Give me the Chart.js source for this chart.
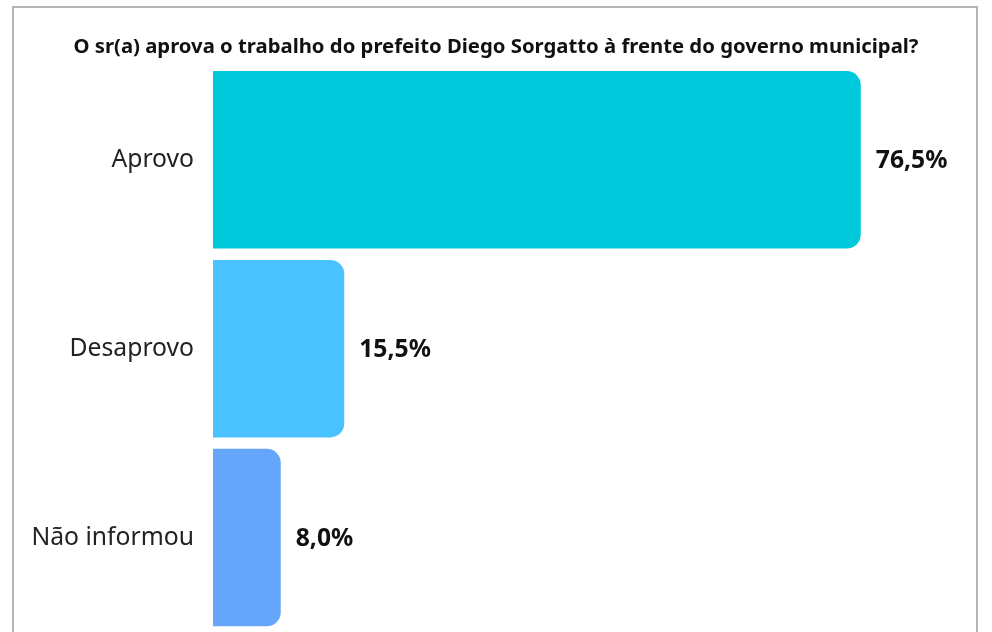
<!DOCTYPE html>
<html>
<head>
<meta charset="utf-8">
<script src="https://cdn.jsdelivr.net/npm/chart.js@4"></script>
<style>
    html, body { margin: 0; padding: 0; background: #fff; }
    #wrap { position: relative; width: 992px; height: 632px; overflow: hidden; }
    #frame {
        position: absolute; left: 12px; top: 6px; width: 966px; height: 700px;
        border: 2px solid #b4b4b4; box-sizing: border-box;
    }
    #chart { position: absolute; left: 0; top: 0; }
</style>
</head>
<body>
<div id="wrap">
    <div id="frame"></div>
    <canvas id="chart" width="992" height="632"></canvas>
</div>
<script>
    // --- Data ---
    const titleText = 'O sr(a) aprova o trabalho do prefeito Diego Sorgatto à frente do governo municipal?';
    const categories = ['Aprovo', 'Desaprovo', 'Não informou'];
    const percentValues = [76.5, 15.5, 8.0];
    const barColors = ['#00c9dc', '#4ac2ff', '#65a6fa'];

    // value labels drawn next to each bar end
    const valueLabels = {
        id: 'valueLabels',
        afterDatasetsDraw(chart) {
            const ctx = chart.ctx;
            const meta = chart.getDatasetMeta(0);
            ctx.save();
            ctx.font = 'bold 24.7px "Noto Sans"';
            ctx.fillStyle = '#111';
            ctx.textAlign = 'left';
            ctx.textBaseline = 'middle';
            meta.data.forEach((bar, i) => {
                const txt = percentValues[i].toFixed(1).replace('.', ',') + '%';
                ctx.fillText(txt, bar.x + 15, bar.y + 1.5);
            });
            ctx.restore();
        }
    };

    const ctx = document.getElementById('chart').getContext('2d');
    new Chart(ctx, {
        type: 'bar',
        data: {
            labels: categories,
            datasets: [{
                data: percentValues,
                backgroundColor: barColors,
                borderRadius: 14,
                barPercentage: 0.94,
                categoryPercentage: 1
            }]
        },
        options: {
            indexAxis: 'y',
            responsive: false,
            animation: false,
            layout: { padding: 0 },
            scales: {
                x: {
                    display: false,
                    min: 0,
                    max: 92
                },
                y: {
                    grid: { display: false, drawTicks: false },
                    border: { display: false },
                    ticks: {
                        color: '#222',
                        padding: 19,
                        font: { family: 'Noto Sans', size: 24.7 }
                    },
                    afterFit(scale) {
                        // fixed label column, no extra top/bottom label padding
                        scale.width = 213;
                        scale.paddingTop = 0;
                        scale.paddingBottom = 0;
                    }
                }
            },
            plugins: {
                legend: { display: false },
                tooltip: { enabled: false },
                title: {
                    display: true,
                    text: titleText,
                    color: '#111',
                    font: { family: 'Noto Sans', size: 20.3, weight: 'bold', lineHeight: 1.2 },
                    padding: { top: 35, bottom: 6 }
                }
            }
        },
        plugins: [valueLabels]
    });
</script>
</body>
</html>
